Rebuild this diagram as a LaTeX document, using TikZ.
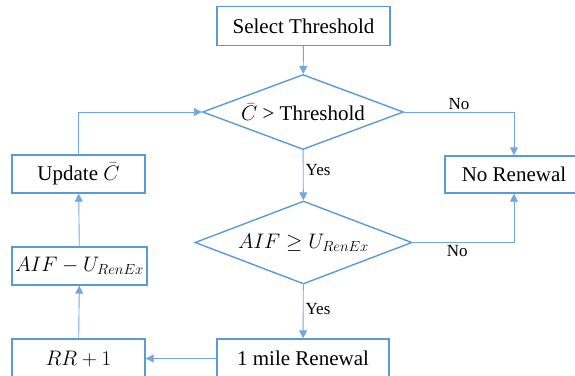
\documentclass[tikz,border=0pt]{standalone}
\usepackage{fontspec}
\setmainfont{Liberation Serif}
\usepackage{fix-cm}
\usetikzlibrary{positioning,arrows.meta,shapes.geometric}
\definecolor{fcBlue}{RGB}{91,155,213}
\definecolor{fcLine}{RGB}{115,168,220}
\tikzset{
    base/.style={font=\fontsize{21}{25}\selectfont, align=center, text=black},
    process/.style={base, rectangle, draw=fcBlue, line width=1.4pt, inner sep=0pt},
    decision/.style={base, diamond, draw=fcBlue, line width=1.4pt, inner sep=0pt},
    flow/.style={-{Triangle[width=8pt,length=8pt]}, line width=0.9pt, color=fcLine},
    label/.style={font=\fontsize{17}{20}\selectfont, text=black, inner sep=2pt}
}
\begin{document}
\begin{tikzpicture}[x=1pt,y=-1pt]
  \useasboundingbox (0,0) rectangle (575,375);

  % main column
  \node[process, minimum width=173pt, minimum height=39pt] (select) at (303.5,26) {Select Threshold};
  \node[decision, aspect=2.68, minimum width=201pt, minimum height=75pt] (check) at (303,112) {$\bar{C}$ > Threshold};
  \node[decision, aspect=2.61, minimum width=217pt, minimum height=83pt] (afford) at (303.5,242.5) {$AIF \geq U_{RenEx}$};
  \node[process, minimum width=172pt, minimum height=39pt] (mile) at (303,358.5) {1 mile Renewal};

  % right side
  \node[process, minimum width=138pt, minimum height=37pt] (norenew) at (514,174.5) {No Renewal};

  % left column
  \node[process, minimum width=133pt, minimum height=38pt] (update) at (78.5,174) {Update $\bar{C}$};
  \node[process, minimum width=135pt, minimum height=38pt] (aif) at (79.5,266) {$AIF - U_{RenEx}$};
  \node[process, minimum width=133pt, minimum height=39pt] (rr) at (78.5,358.5) {$RR + 1$};

  % connectors
  \draw[flow] (select) -- (check);
  \draw[flow] (check.east) -| node[label, above, pos=0.25] {No} (norenew);
  \draw[flow] (check) -- node[label, right, pos=0.4] {Yes} (afford);
  \draw[flow] (afford.east) -| node[label, below, pos=0.22] {No} (norenew);
  \draw[flow] (afford) -- node[label, right, pos=0.45] {Yes} (mile);
  \draw[flow] (mile) -- (rr);
  \draw[flow] (rr) -- (aif);
  \draw[flow] (aif) -- (update);
  \draw[flow] (update.north) |- (check.west);
\end{tikzpicture}
\end{document}
